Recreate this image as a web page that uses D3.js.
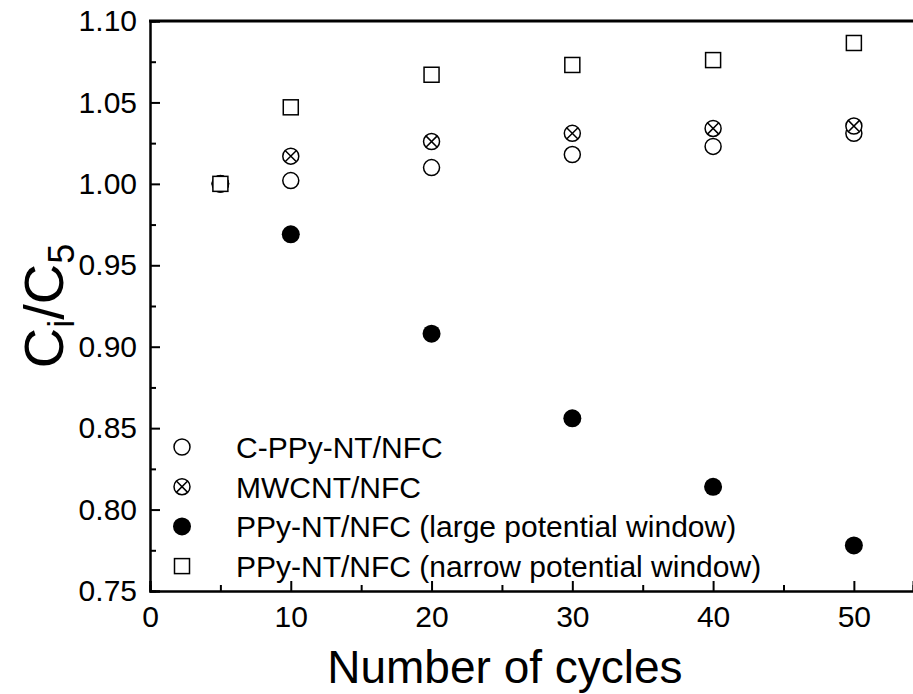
<!DOCTYPE html>
<html><head><meta charset="utf-8">
<script src="https://cdn.jsdelivr.net/npm/d3@7"></script>
<style>body{margin:0;background:#fff}svg{display:block}text{font-family:"Liberation Sans",Arial,sans-serif;fill:#000}</style>
</head><body>
<svg id="c" width="913" height="694"></svg>
<script>
const cycles = [5, 10, 20, 30, 40, 50];
const cPPy = [1.000, 1.002, 1.010, 1.018, 1.023, 1.031];
const mwcnt = [1.000, 1.017, 1.026, 1.031, 1.034, 1.0355];
const ppyLarge = [1.000, 0.969, 0.908, 0.856, 0.814, 0.778];
const ppyNarrow = [1.000, 1.047, 1.067, 1.073, 1.076, 1.0865];
const seriesNames = ["C-PPy-NT/NFC", "MWCNT/NFC", "PPy-NT/NFC (large potential window)", "PPy-NT/NFC (narrow potential window)"];
const xTicks = [0, 10, 20, 30, 40, 50];
const yTicks = [0.75, 0.80, 0.85, 0.90, 0.95, 1.00, 1.05, 1.10];

const svg = d3.select("#c");
const L = 150, R = 913, T = 21, B = 591;
const x = d3.scaleLinear().domain([0, 54.2]).range([L, R]);
const y = d3.scaleLinear().domain([0.75, 1.10]).range([B, T]);

// axes
const xAxis = svg.append("g").attr("transform", `translate(0,${B})`)
  .call(d3.axisBottom(x).tickValues(xTicks).tickFormat(d3.format("d")).tickSize(-10).tickPadding(15));
const xMinor = svg.append("g").attr("transform", `translate(0,${B})`)
  .call(d3.axisBottom(x).tickValues([5,15,25,35,45]).tickFormat("").tickSize(-6));
const yAxis = svg.append("g").attr("transform", `translate(${L},0)`)
  .call(d3.axisLeft(y).tickValues(yTicks).tickFormat(d3.format(".2f")).tickSize(-10).tickPadding(13));
const yMinor = svg.append("g").attr("transform", `translate(${L},0)`)
  .call(d3.axisLeft(y).tickValues([0.775,0.825,0.875,0.925,0.975,1.025,1.075]).tickFormat("").tickSize(-6));
[xAxis, xMinor, yAxis, yMinor].forEach(g => {
  g.select(".domain").attr("stroke", "#000").attr("stroke-width", 2);
  g.selectAll(".tick line").attr("stroke", "#000").attr("stroke-width", 2);
  g.selectAll(".tick text").style("font-size", "30px").attr("fill", "#000");
});
xAxis.selectAll(".tick text").attr("dy", "0.71em");
// top border
svg.append("line").attr("x1", L - 1).attr("x2", R).attr("y1", T).attr("y2", T)
  .attr("stroke", "#000").attr("stroke-width", 3);

// titles
svg.append("text").attr("x", (x(0) + x(50)) / 2 + 3).attr("y", 683).attr("text-anchor", "middle")
  .style("font-size", "46px").text("Number of cycles");
const yl = svg.append("text").attr("transform", `translate(63,${(T + B) / 2}) rotate(-90)`)
  .attr("text-anchor", "middle").style("font-size", "56px");
yl.append("tspan").text("C");
yl.append("tspan").attr("dy", 11).style("font-size", "36px").text("i");
yl.append("tspan").attr("dy", -11).text("/C");
yl.append("tspan").attr("dy", 11).style("font-size", "36px").text("5");

// marker drawers
function openCircle(g, cx, cy) {
  g.append("circle").attr("cx", cx).attr("cy", cy).attr("r", 8)
    .attr("fill", "#fff").attr("stroke", "#000").attr("stroke-width", 1.5);
}
function crossCircle(g, cx, cy) {
  openCircle(g, cx, cy);
  const d = 8 * Math.SQRT1_2;
  g.append("path").attr("d", `M${cx-d},${cy-d}L${cx+d},${cy+d}M${cx-d},${cy+d}L${cx+d},${cy-d}`)
    .attr("stroke", "#000").attr("stroke-width", 1.5).attr("fill", "none");
}
function filledCircle(g, cx, cy) {
  g.append("circle").attr("cx", cx).attr("cy", cy).attr("r", 9).attr("fill", "#000");
}
function square(g, cx, cy) {
  g.append("rect").attr("x", cx - 7.5).attr("y", cy - 7.5).attr("width", 15).attr("height", 15)
    .attr("fill", "#fff").attr("stroke", "#000").attr("stroke-width", 1.5);
}
const series = [
  {vals: cPPy, draw: openCircle},
  {vals: mwcnt, draw: crossCircle},
  {vals: ppyLarge, draw: filledCircle},
  {vals: ppyNarrow, draw: square}
];
const pg = svg.append("g");
series.forEach(s => {
  s.vals.forEach((v, i) => s.draw(pg, x(cycles[i]), y(v)));
});

// legend
const lg = svg.append("g");
const ly0 = 447, ldy = 39.7;
series.forEach((s, i) => {
  const cy = ly0 + i * ldy;
  s.draw(lg, 182, cy);
  lg.append("text").attr("x", 236).attr("y", cy).attr("dy", "0.36em")
    .style("font-size", "30px").text(seriesNames[i]);
});
</script>
</body></html>
